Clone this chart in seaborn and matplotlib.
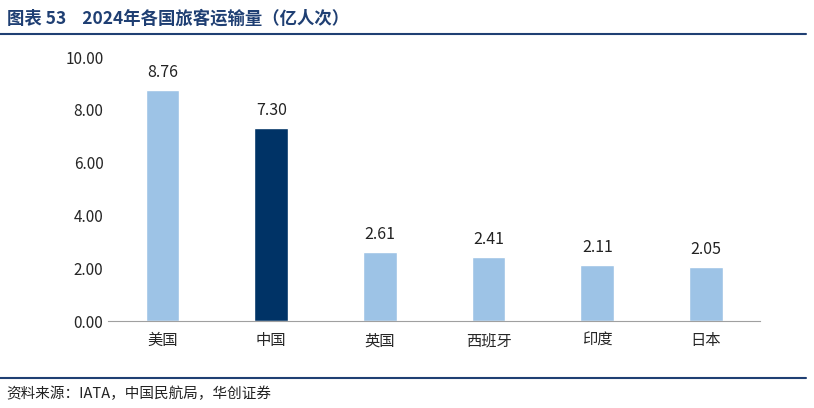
import matplotlib
matplotlib.use("Agg")
import matplotlib.pyplot as plt
import seaborn as sns
import pandas as pd

countries = ["美国", "中国", "英国", "西班牙", "印度", "日本"]
values = [8.76, 7.30, 2.61, 2.41, 2.11, 2.05]
yticks = [0, 2, 4, 6, 8, 10]

sns.set_style("white")
plt.rcParams['font.family'] = ['Noto Sans CJK SC', 'DejaVu Sans']

df = pd.DataFrame({"country": countries, "value": values})
colors = ["#003366" if c == "中国" else "#9DC3E6" for c in countries]

fig = plt.figure(figsize=(8.14, 4.08), dpi=100)
ax = fig.add_axes([0.133, 0.213, 0.801, 0.647])
sns.barplot(data=df, x="country", y="value", hue="country", palette=colors,
            width=0.31, legend=False, ax=ax, saturation=1)
for i, v in enumerate(values):
    ax.text(i, v + 0.35, f"{v:.2f}", ha="center", va="bottom", fontsize=11.5, color="#222222")
ax.set_ylim(0, 10)
ax.set_yticks(yticks)
ax.set_yticklabels([f"{t:.2f}" for t in yticks], fontsize=11)
ax.tick_params(axis="x", labelsize=11, length=0, pad=8)
ax.tick_params(axis="y", length=0)
ax.set_xlabel("")
ax.set_ylabel("")
for s in ["left", "right", "top"]:
    ax.spines[s].set_visible(False)
ax.spines["bottom"].set_color("#A0A0A0")

fig.text(0.008, 0.955, "图表 53    2024年各国旅客运输量（亿人次）", fontsize=12.5,
         fontweight="bold", color="#1F3F73", va="center")
fig.add_artist(plt.Line2D([0.0, 0.99], [0.917, 0.917], color="#1F3F73", lw=1.5))
fig.add_artist(plt.Line2D([0.0, 0.99], [0.073, 0.073], color="#1F3F73", lw=1.5))
fig.text(0.008, 0.035, "资料来源：IATA，中国民航局，华创证券", fontsize=10.5,
         style="italic", color="#222222", va="center")

fig.savefig("out.png", dpi=100)
